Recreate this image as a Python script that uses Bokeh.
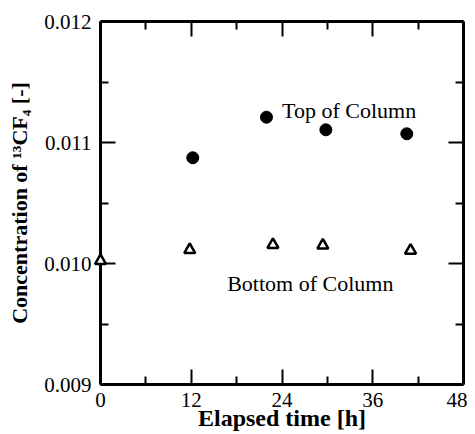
from bokeh.plotting import figure
from bokeh.models import (FixedTicker, PrintfTickFormatter, LinearAxis, Label,
                          Range1d, ColumnDataSource)
from bokeh.embed import file_html
from bokeh.resources import INLINE

# Data
top_t = [12.2, 21.95, 29.8, 40.5]
top_c = [0.010874, 0.011209, 0.011105, 0.011072]
bot_t = [0.0, 11.8, 22.8, 29.4, 41.0]
bot_c = [0.010022, 0.010113, 0.010155, 0.010150, 0.010107]

x_ticks = [0, 12, 24, 36, 48]
x_minor = [6, 18, 30, 42]
y_ticks = [0.009, 0.010, 0.011, 0.012]
y_minor = [0.0095, 0.0105, 0.0115]

FONT = "Liberation Serif"

p = figure(frame_width=363, frame_height=363, output_backend="svg",
           toolbar_location=None, x_range=Range1d(0, 48),
           y_range=Range1d(0.009, 0.012),
           min_border_left=100, min_border_right=4, min_border_top=21,
           min_border_bottom=48)
p.outline_line_color = None
p.xgrid.visible = False
p.ygrid.visible = False
p.background_fill_color = "white"


def style(ax, ticks, minor, labels=True):
    ax.ticker = FixedTicker(ticks=ticks, minor_ticks=minor)
    ax.axis_line_width = 3
    ax.axis_line_color = "black"
    ax.major_tick_in = 15
    ax.major_tick_out = 0
    ax.minor_tick_in = 8
    ax.minor_tick_out = 0
    ax.major_tick_line_width = 2
    ax.minor_tick_line_width = 2
    ax.major_tick_line_color = "black"
    ax.minor_tick_line_color = "black"
    ax.major_label_text_font = FONT
    ax.major_label_text_color = "black"
    ax.major_label_text_font_size = "21px"
    if not labels:
        ax.major_label_overrides = {t: "" for t in ticks}
        ax.major_label_text_font_size = "1px"
        ax.major_label_standoff = 0


xa = p.xaxis[0]
ya = p.yaxis[0]
style(xa, x_ticks, x_minor)
style(ya, y_ticks, y_minor)
ya.formatter = PrintfTickFormatter(format="%.3f")
xa.major_label_standoff = 8
ya.major_label_standoff = 9

xa.axis_label = "Elapsed time [h]"
ya.axis_label = "Concentration of \u00b9\u00b3CF\u2084 [-]"
for ax in (xa, ya):
    ax.axis_label_text_font = FONT
    ax.axis_label_text_font_style = "bold"
    ax.axis_label_text_color = "black"
xa.axis_label_text_font_size = "24px"
ya.axis_label_text_font_size = "22px"
xa.axis_label_standoff = -5
ya.axis_label_standoff = 9

top_ax = LinearAxis()
right_ax = LinearAxis()
style(top_ax, x_ticks, x_minor, labels=False)
style(right_ax, y_ticks, y_minor, labels=False)
p.add_layout(top_ax, "above")
p.add_layout(right_ax, "right")

src_top = ColumnDataSource(dict(t=top_t, c=top_c))
src_bot = ColumnDataSource(dict(t=bot_t, c=bot_c))
p.scatter("t", "c", source=src_top, marker="circle", size=12,
          fill_color="black", line_color="black", level="overlay")
p.scatter("t", "c", source=src_bot, marker="triangle", size=11,
          fill_color="white", line_color="black", line_width=2.5,
          level="overlay")

p.add_layout(Label(x=24.0, y=0.011264, text="Top of Column",
                   text_font=FONT, text_font_size="22px",
                   text_baseline="alphabetic", text_color="black"))
p.add_layout(Label(x=16.75, y=0.009832, text="Bottom of Column",
                   text_font=FONT, text_font_size="22px",
                   text_baseline="alphabetic", text_color="black"))

open("out.html", "w").write(file_html(p, INLINE))
